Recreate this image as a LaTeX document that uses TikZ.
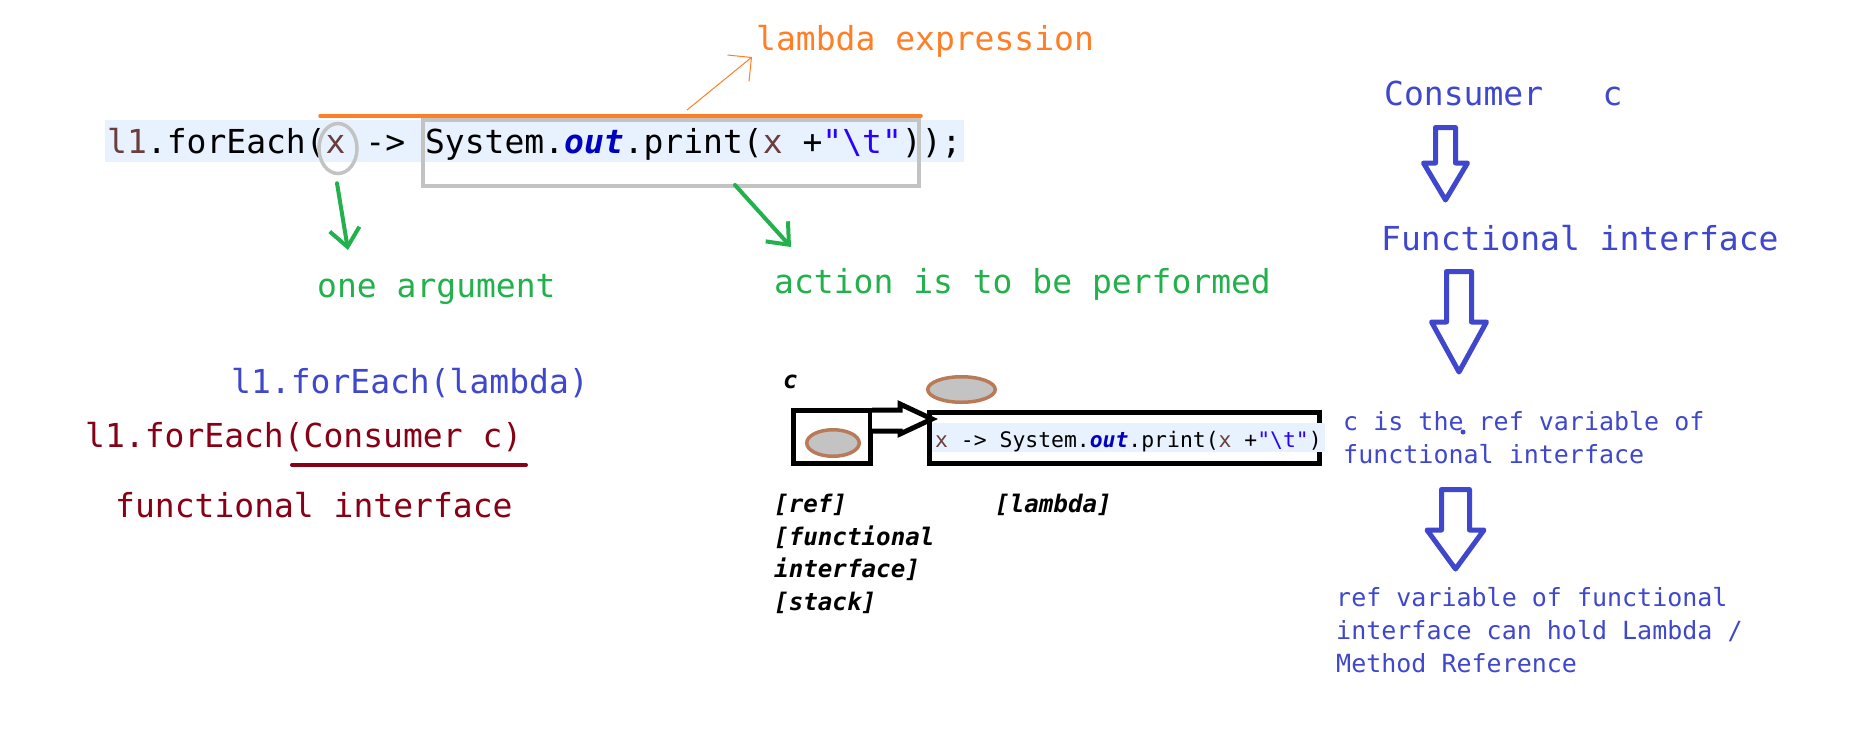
\documentclass[tikz,border=0pt]{standalone}
\usepackage{fontspec}
\setmonofont{DejaVu Sans Mono}
\usetikzlibrary{shapes.geometric,arrows.meta}

\definecolor{penorange}{HTML}{FF7F27}
\definecolor{pengreen}{HTML}{22B14C}
\definecolor{penblue}{HTML}{3F48CC}
\definecolor{pendarkred}{HTML}{880015}
\definecolor{pengray}{HTML}{C3C3C3}
\definecolor{penbrown}{HTML}{B97A57}
\definecolor{hlblue}{HTML}{E8F2FE}
\definecolor{locvar}{HTML}{6A3E3E}
\definecolor{fieldblue}{HTML}{0000C0}
\definecolor{strblue}{HTML}{2A00FF}

\newcommand{\codebig}{\ttfamily\fontsize{33}{40}\selectfont}
\newcommand{\codemid}{\ttfamily\fontsize{25}{33}\selectfont}
\newcommand{\codesmall}{\ttfamily\fontsize{21.4}{27}\selectfont}
\newcommand{\codelabel}{\ttfamily\bfseries\itshape\fontsize{24.2}{32}\selectfont}
\newcommand{\lambdabody}{{\color{locvar}x} -> System.{\bfseries\itshape\color{fieldblue}out}.print({\color{locvar}x} +{\color{strblue}"\textbackslash t"})}
% centre x, shaft half, head half, top, head top, tip
\newcommand{\hollowdown}[6]{\draw[fatarrow] ({#1-#2},#4) -- ({#1+#2},#4) -- ({#1+#2},#5) -- ({#1+#3},#5) -- (#1,#6) -- ({#1-#3},#5) -- ({#1-#2},#5) -- cycle;}

\tikzset{
  txt/.style={anchor=base west, inner sep=0pt},
  fatarrow/.style={draw=penblue, line width=5pt, line join=round},
  pen/.style={pengreen, line width=4pt, line cap=round, -{Straight Barb[length=18pt,width=30pt]}},
  blkbox/.style={draw, line width=5pt, inner sep=0pt},
  obj/.style={ellipse, draw=penbrown, fill=pengray, line width=3.5pt, inner sep=0pt}
}

\begin{document}
\begin{tikzpicture}[x=1pt,y=-1pt]
        \fill[white] (0,0) rectangle (1850,740);
        \useasboundingbox (0,0) rectangle (1850,740);

        % code line
        \node[txt, fill=hlblue, inner xsep=2pt, text height=33pt, text depth=9pt, font=\codebig] (codeline) at (105,153)
            {{\color{locvar}l1}.forEach({\color{locvar}x} -> System.{\bfseries\itshape\color{fieldblue}out}.print({\color{locvar}x} +{\color{strblue}"\textbackslash t"}));};
        \node[ellipse, draw=pengray, line width=3.5pt, minimum width=38pt, minimum height=50pt, inner sep=0pt] (xring) at (338,148.5) {};
        \node[draw=pengray, line width=4pt, minimum width=496pt, minimum height=66pt, inner sep=0pt] (actrect) at (671,153) {};
        \coordinate (lamstart) at (320,116);
        \coordinate (lamend) at (921,116);
        \draw[penorange, line width=3.5pt, line cap=round] (lamstart) -- (lamend);

        % lambda expression
        \node[txt, font=\codebig, text=penorange] (lamtxt) at (756,50) {lambda expression};
        \coordinate (lamfoot) at (687,110);
        \draw[penorange, line width=1pt, -{Straight Barb[length=17pt,width=34pt]}] (lamfoot) -- ([shift={(-4,7)}]lamtxt.base west);

        % green notes
        \node[txt, font=\codebig, text=pengreen] (onearg) at (317,297) {one argument};
        \node[txt, font=\codebig, text=pengreen] (actperf) at (774,293) {action is to be performed};
        \draw[pen] ([shift={(-1,8)}]xring.south) -- ([shift={(31,-47)}]onearg.base west);
        \draw[pen] ([shift={(64,-3)}]actrect.south) -- ([shift={(17,-46)}]actperf.base west);

        % forEach signatures
        \node[txt, font=\codebig, text=penblue] (lamcall) at (231,393) {l1.forEach(lambda)};
        \node[txt, font=\codebig, text=pendarkred] (concall) at (85,447) {l1.forEach(Consumer c)};
        \draw[pendarkred, line width=4pt, line cap=round] (292,465) -- (526,465);
        \node[txt, font=\codebig, text=pendarkred] (funciface) at (115,517) {functional interface};

        % memory picture
        \node[txt, font=\codelabel] (clabel) at (783,388) {c};
        \node[blkbox, minimum width=77pt, minimum height=53pt] (refbox) at (832,437) {};
        \node[obj, minimum width=52.5pt, minimum height=26.5pt] (refobj) at (833,443) {};
        \node[obj, minimum width=67.5pt, minimum height=25.5pt] (heapobj) at (961.5,389.5) {};
        \node[blkbox, minimum width=390pt, minimum height=51pt] (lambox) at (1124.5,438) {};
        \draw[line width=5pt, fill=white] (872,410) -- (900,410) -- (900,404) -- (932,419) -- (900,434) -- (900,431) -- (872,431);
        \node[txt, fill=hlblue, inner xsep=3pt, text height=24pt, text depth=5pt, font=\codesmall] (lamcode) at (932,447) {\lambdabody};
        \node[txt, font=\codelabel] (lbref) at (774,512) {[ref]};
        \node[txt, font=\codelabel] (lbfunc) at (774,545) {[functional};
        \node[txt, font=\codelabel] (lbiface) at (774,577) {interface]};
        \node[txt, font=\codelabel] (lbstack) at (774,610) {[stack]};
        \node[txt, font=\codelabel] (lblam) at (995,512) {[lambda]};

        % right column
        \node[txt, font=\codebig, text=penblue] (consumer) at (1384,105) {Consumer\ \ \ c};
        \hollowdown{1445.5}{10}{22}{127.5}{163}{200}
        \node[txt, font=\codebig, text=penblue] (funcif) at (1381,250) {Functional interface};
        \hollowdown{1459}{12.5}{27.5}{271.5}{322}{372}
        \node[txt, font=\codemid, text=penblue] (crefA) at (1343,430) {c is the ref variable of};
        \node[txt, font=\codemid, text=penblue] (crefB) at (1343,463) {functional interface};
        \fill[penblue] (1463,432) circle (2.5pt);
        \hollowdown{1455.5}{14}{28.5}{489.5}{530}{569}
        \node[txt, font=\codemid, text=penblue] (holdA) at (1336,606) {ref variable of functional};
        \node[txt, font=\codemid, text=penblue] (holdB) at (1336,639) {interface can hold Lambda /};
        \node[txt, font=\codemid, text=penblue] (holdC) at (1336,672) {Method Reference};
\end{tikzpicture}
\end{document}
